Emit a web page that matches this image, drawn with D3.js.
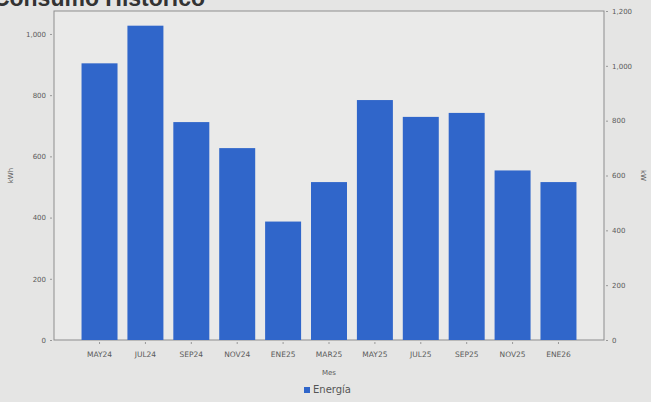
<!DOCTYPE html>
<html>
<head>
<meta charset="utf-8">
<script src="https://cdn.jsdelivr.net/npm/d3@7"></script>
<style>
  body { margin: 0; background: #e5e5e4; }
  svg { display: block; font-family: "DejaVu Sans", sans-serif; }
</style>
</head>
<body>
<svg id="chart"></svg>
<script>
// data
var meses = ["MAY24", "JUL24", "SEP24", "NOV24", "ENE25", "MAR25", "MAY25", "JUL25", "SEP25", "NOV25", "ENE26"]
var energia = [904, 1027, 712, 627, 387, 516, 784, 729, 742, 554, 516]
var ticksKwh = [0, 200, 400, 600, 800, 1000]
var ticksKw = [0, 200, 400, 600, 800, 1000, 1200]

var width = 651, height = 402
var plot = { left: 54, right: 604, top: 11, bottom: 340 }

var svg = d3.select('#chart').attr('width', width).attr('height', height)

// paper background
svg.append('rect').attr('width', width).attr('height', height).attr('fill', '#e5e5e4')

// title, mostly cut off at the top (as in the photo)
svg.append('text')
  .attr('x', 205).attr('y', 6)
  .attr('text-anchor', 'end')
  .attr('font-family', '"Liberation Sans", Arial, sans-serif')
  .attr('font-weight', 'bold')
  .attr('font-size', 23)
  .attr('fill', '#333')
  .text('Consumo Histórico')

var x = d3.scaleBand()
  .domain(meses)
  .range([plot.left, plot.right])
  .paddingInner(0.216)
  .paddingOuter(0.6)

var yLeft = d3.scaleLinear().domain([0, 1075]).range([plot.bottom, plot.top])
var yRight = d3.scaleLinear().domain([0, 1200]).range([plot.bottom, plot.top])

// plot area
svg.append('rect')
  .attr('x', plot.left).attr('y', plot.top)
  .attr('width', plot.right - plot.left).attr('height', plot.bottom - plot.top)
  .attr('fill', '#eaeae9')
  .attr('stroke', '#8d8d8d')
  .attr('stroke-width', 1)

svg.append('g')
  .selectAll('rect')
  .data(energia)
  .enter().append('rect')
    .attr('x', function (d, i) { return x(meses[i]) })
    .attr('y', function (d) { return yLeft(d) })
    .attr('width', x.bandwidth())
    .attr('height', function (d) { return yLeft(0) - yLeft(d) })
    .attr('fill', '#3066ca')

var fmt = d3.format(',')

var axL = svg.append('g')
  .attr('transform', 'translate(' + (plot.left - 2) + ',0)')
  .call(d3.axisLeft(yLeft).tickValues(ticksKwh).tickFormat(fmt).tickSize(2).tickPadding(4))
var axR = svg.append('g')
  .attr('transform', 'translate(' + (plot.right + 2) + ',0)')
  .call(d3.axisRight(yRight).tickValues(ticksKw).tickFormat(fmt).tickSize(2).tickPadding(4))
var axB = svg.append('g')
  .attr('transform', 'translate(0,' + (plot.bottom + 2) + ')')
  .call(d3.axisBottom(x).tickSize(2).tickPadding(8))

;[axL, axR, axB].forEach(function (g) {
  g.select('.domain').remove()
  g.selectAll('line').attr('stroke', '#999')
  g.selectAll('text').attr('font-size', 7).attr('fill', '#5a5a5a').attr('font-family', '"DejaVu Sans", sans-serif')
})
axB.selectAll('text').attr('font-size', 7.5)

// axis titles
svg.append('text')
  .attr('transform', 'translate(13,' + ((plot.top + plot.bottom) / 2) + ') rotate(-90)')
  .attr('text-anchor', 'middle')
  .attr('font-size', 7).attr('fill', '#5a5a5a')
  .text('kWh')
svg.append('text')
  .attr('transform', 'translate(641,' + ((plot.top + plot.bottom) / 2) + ') rotate(90)')
  .attr('text-anchor', 'middle')
  .attr('font-size', 7).attr('fill', '#5a5a5a')
  .text('kW')
svg.append('text')
  .attr('x', (plot.left + plot.right) / 2).attr('y', 375)
  .attr('text-anchor', 'middle')
  .attr('font-size', 7).attr('fill', '#5a5a5a')
  .text('Mes')

// legend
var legend = svg.append('g').attr('transform', 'translate(304,393)')
legend.append('rect').attr('x', 0).attr('y', -6).attr('width', 6).attr('height', 6).attr('fill', '#3066ca')
legend.append('text').attr('x', 9).attr('y', 0)
  .attr('font-size', 10).attr('fill', '#555')
  .text('Energía')
</script>
</body>
</html>
